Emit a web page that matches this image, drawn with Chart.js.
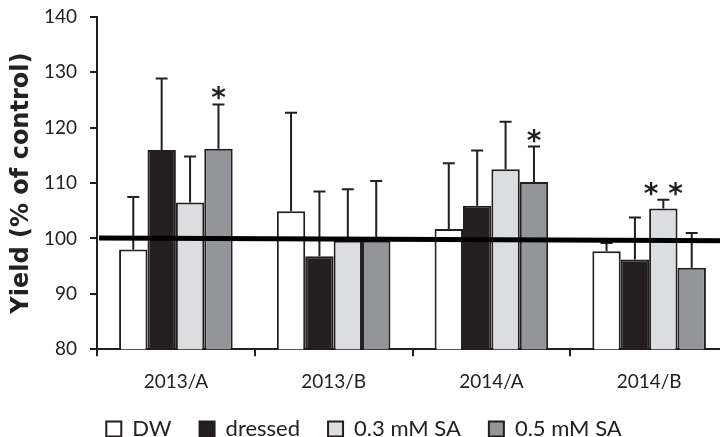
<!DOCTYPE html>
<html>
<head>
<meta charset="utf-8">
<script src="https://cdn.jsdelivr.net/npm/chart.js@4"></script>
<style>
  html, body { margin: 0; padding: 0; background: #fff; overflow: hidden; }
  #wrap { width: 728px; height: 469px; }
</style>
</head>
<body>
<div id="wrap"><canvas id="yieldChart"></canvas></div>
<script>
// yield data, % of control
const labels = ['2013/A', '2013/B', '2014/A', '2014/B'];
const dw = [98.0, 104.9, 101.7, 97.7];
const dwErrTop = [107.5, 122.7, 113.6, 99.2];
const dressed = [116.0, 96.8, 105.9, 96.2];
const dressedErrTop = [128.9, 108.5, 115.9, 103.8];
const sa03 = [106.5, 99.6, 112.5, 105.4];
const sa03ErrTop = [114.8, 108.9, 121.1, 107.0];
const sa05 = [116.2, 99.6, 110.2, 94.7];
const sa05ErrTop = [124.2, 110.4, 116.6, 101.0];
const sa03Stars = ['', '', '', '* *'];
const sa05Stars = ['*', '', '*', ''];
const controlLine = [100.1, 99.6]; // left, right end

const edge = '#231f20';

const errTops = [dwErrTop, dressedErrTop, sa03ErrTop, sa05ErrTop];
const stars = [[], [], sa03Stars, sa05Stars];

const extrasPlugin = {
  id: 'extras',
  afterLayout(chart) {
    // pull the legend a bit closer to the axis labels
    chart.legend.top -= 17;
    chart.legend.bottom -= 17;
  },
  afterDatasetsDraw(chart) {
    const ctx = chart.ctx;
    const y = chart.scales.y;
    const area = chart.chartArea;
    ctx.save();
    ctx.strokeStyle = edge;
    ctx.lineWidth = 2;
    chart.data.datasets.forEach((ds, i) => {
      const meta = chart.getDatasetMeta(i);
      meta.data.forEach((bar, j) => {
        const top = y.getPixelForValue(errTops[i][j]);
        ctx.beginPath();
        ctx.moveTo(bar.x, bar.y);
        ctx.lineTo(bar.x, top);
        ctx.moveTo(bar.x - 6, top);
        ctx.lineTo(bar.x + 6, top);
        ctx.stroke();
        const s = stars[i][j];
        if (s) {
          ctx.fillStyle = edge;
          ctx.font = 'bold 28px "DejaVu Sans"';
          ctx.textAlign = 'center';
          ctx.textBaseline = 'alphabetic';
          ctx.fillText(s, bar.x, top + 3);
        }
      });
    });
    // control level
    ctx.lineWidth = 5;
    ctx.strokeStyle = '#000';
    ctx.beginPath();
    ctx.moveTo(area.left + 2, y.getPixelForValue(controlLine[0]));
    ctx.lineTo(area.right, y.getPixelForValue(controlLine[1]));
    ctx.stroke();
    ctx.restore();
  }
};

new Chart(document.getElementById('yieldChart'), {
  type: 'bar',
  data: {
    labels: labels,
    datasets: [
      { label: 'DW', data: dw, backgroundColor: '#ffffff' },
      { label: 'dressed', data: dressed, backgroundColor: '#231f20' },
      { label: '0.3 mM SA', data: sa03, backgroundColor: '#dcdddf' },
      { label: '0.5 mM SA', data: sa05, backgroundColor: '#939598' }
    ].map(d => Object.assign(d, { borderColor: edge, borderWidth: 2, borderSkipped: 'bottom' }))
  },
  options: {
    responsive: true,
    maintainAspectRatio: false,
    animation: false,
    layout: { padding: { top: 17, right: 0, left: 0, bottom: 2 } },
    datasets: { bar: { barPercentage: 1.0, categoryPercentage: 0.72 } },
    scales: {
      x: {
        grid: { display: true, drawOnChartArea: false, tickLength: 7, color: edge, lineWidth: 2 },
        border: { color: edge, width: 2 },
        ticks: { color: '#222', font: { family: 'Lato', size: 19 }, padding: 14 }
      },
      y: {
        min: 80,
        max: 140,
        afterFit(scale) {
          scale.width = 97;
          scale.paddingTop = 0;
        },
        grid: { display: true, drawOnChartArea: false, tickLength: 7, color: edge, lineWidth: 2 },
        border: { color: edge, width: 2 },
        ticks: { stepSize: 10, color: '#222', font: { family: 'Lato', size: 19 }, padding: 13 },
        title: {
          display: true,
          text: 'Yield (% of control)',
          color: '#222',
          font: { family: 'DejaVu Sans', size: 24, weight: 'bold' },
          padding: { top: 7, bottom: 0 }
        }
      }
    },
    plugins: {
      legend: {
        position: 'bottom',
        labels: {
          boxWidth: 15,
          boxHeight: 15,
          color: '#222',
          padding: 28,
          font: { family: 'Lato', size: 22 }
        }
      },
      tooltip: { enabled: false }
    }
  },
  plugins: [extrasPlugin]
});
</script>
</body>
</html>
